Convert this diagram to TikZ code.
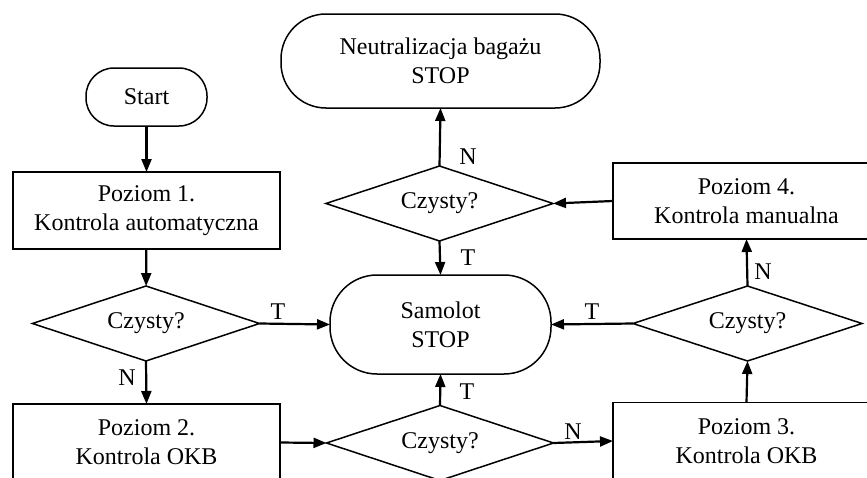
\documentclass[tikz,border=0pt]{standalone}
\usepackage{fontspec}
\setmainfont{Liberation Serif}
\usetikzlibrary{shapes.geometric,arrows.meta}
\tikzset{
  base/.style={draw, line width=1.5pt, inner sep=0pt, outer sep=0pt, align=center, font=\fontsize{24}{29}\selectfont},
  boxn/.style={base, rectangle, minimum width=267pt, minimum height=77pt},
  term/.style={base, rectangle, rounded corners=#1},
  dec/.style={base, diamond, aspect=3, minimum width=227pt, minimum height=75pt},
  arr/.style={line width=2.2pt, -{Triangle[length=13pt,width=10pt]}},
  lbl/.style={inner sep=0pt, font=\fontsize{24}{29}\selectfont}
}
\begin{document}
\begin{tikzpicture}[x=1pt,y=-1pt]
\useasboundingbox (0,0) rectangle (867,477);
\clip (0,0) rectangle (867,477);
% nodes
\node[term=28pt, minimum width=121pt, minimum height=58pt] (start) at (146.5,97) {Start};
\node[boxn] (p1) at (146.5,210.5) {Poziom 1.\\Kontrola automatyczna};
\node[dec] (d1) at (146,323.5) {Czysty?};
\node[boxn] (p2) at (146.5,442.5) {Poziom 2.\\Kontrola OKB};
\node[term=47pt, minimum width=221pt, minimum height=99pt] (sam) at (440.5,324.5) {Samolot\\STOP};
\node[term=45pt, minimum width=319pt, minimum height=94pt] (neut) at (440.5,61) {Neutralizacja bagażu\\STOP};
\node[dec] (d2) at (439.5,203.5) {Czysty?};
\node[dec] (d4) at (440,443) {Czysty?};
\node[boxn, minimum height=76pt] (p4) at (746.5,201) {Poziom 4.\\Kontrola manualna};
\node[dec, minimum width=229pt] (d3) at (747.5,323.5) {Czysty?};
\node[boxn] (p3) at (746.5,441) {Poziom 3.\\Kontrola OKB};
% connectors
\draw[arr] (start) -- (p1);
\draw[arr] (p1) -- (d1);
\draw[arr] (d1.south) -- (p2.north);
\draw[arr] (d1.east) -- (sam.west);
\draw[arr] (p2.east) -- (d4.west);
\draw[arr] (d4.east) -- (p3.west);
\draw[arr] (d4.north) -- (sam.south);
\draw[arr] (p3.north) -- (d3.south);
\draw[arr] (d3.west) -- (sam.east);
\draw[arr] (d3.north) -- (p4.south);
\draw[arr] (p4.west) -- (d2.east);
\draw[arr] (d2.south) -- (sam.north);
\draw[arr] (d2.north) -- (neut.south);
% labels
\node[lbl] (l1) at (278,312) {T};
\node[lbl] (l2) at (127,378) {N};
\node[lbl] (l3) at (468,157) {N};
\node[lbl] (l4) at (468,258) {T};
\node[lbl] (l5) at (467,392) {T};
\node[lbl] (l6) at (573,432) {N};
\node[lbl] (l7) at (763,272) {N};
\node[lbl] (l8) at (592,312) {T};
\end{tikzpicture}
\end{document}
